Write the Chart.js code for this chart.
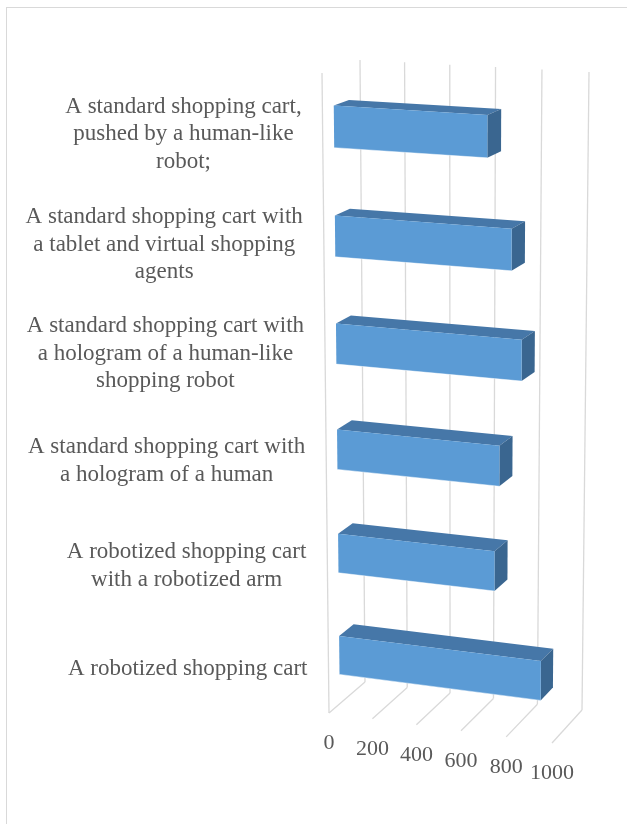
<!DOCTYPE html>
<html>
<head>
<meta charset="utf-8">
<title>Shopping cart concepts</title>
<script src="https://cdn.jsdelivr.net/npm/chart.js@4.4.1/dist/chart.umd.min.js"></script>
<style>
  html, body { margin: 0; padding: 0; background: #ffffff; }
  #frame { position: absolute; left: 6px; top: 7px; width: 621px; height: 817px;
           border-top: 1px solid #d9d9d9; border-left: 1px solid #d9d9d9; box-sizing: border-box; }
  #wrap { position: absolute; left: 0; top: 0; width: 627px; height: 824px; }
</style>
</head>
<body>
<div id="frame"></div>
<div id="wrap"><canvas id="chart" width="627" height="824"></canvas></div>
<script>
// Cart concepts (one line per array entry as the label wraps)
const categories = [
  ['A standard shopping cart,', 'pushed by a human-like', 'robot;'],
  ['A standard shopping cart with', 'a tablet and virtual shopping', 'agents'],
  ['A standard shopping cart with', 'a hologram of a human-like', 'shopping robot'],
  ['A standard shopping cart with', 'a hologram of a human'],
  ['A robotized shopping cart', 'with a robotized arm'],
  ['A robotized shopping cart']
];
const preferenceCounts = [670, 775, 820, 725, 705, 910];
const valueTicks = [0, 200, 400, 600, 800, 1000];

// 3-D box that the plot lives in: back wall and front plane corners,
// perspective foreshortening along each axis, the depth slice occupied
// by the bars, and colours.
const view = {
  back:  { tl: [360, 60], tr: [589, 72], bl: [365, 682], br: [582, 710] },
  front: { tl: [322, 73], tr: [556, 87], bl: [329, 713], br: [552, 743] },
  persU: -0.033,
  persV: 0.056,
  barDepth: [0.3, 0.7],
  vShift: 0.003,
  grid: '#d9d9d9',
  text: '#595959',
  faceFront: '#5b9bd5',
  faceTop: '#4677a8',
  faceSide: '#3a6690'
};

const warp = (s, c) => s * (1 + c) / (1 + c * s);

function onPlane(p, u, v) {
  u = warp(u, view.persU);
  v = warp(v, view.persV);
  const tx = p.tl[0] + (p.tr[0] - p.tl[0]) * u, ty = p.tl[1] + (p.tr[1] - p.tl[1]) * u;
  const bx = p.bl[0] + (p.br[0] - p.bl[0]) * u, by = p.bl[1] + (p.br[1] - p.bl[1]) * u;
  return [tx + (bx - tx) * v, ty + (by - ty) * v];
}
function project(u, v, d) {
  const f = onPlane(view.front, u, v), b = onPlane(view.back, u, v);
  return [f[0] + (b[0] - f[0]) * d, f[1] + (b[1] - f[1]) * d];
}
function poly(ctx, pts, fill) {
  ctx.beginPath();
  ctx.moveTo(pts[0][0], pts[0][1]);
  for (let i = 1; i < pts.length; i++) ctx.lineTo(pts[i][0], pts[i][1]);
  ctx.closePath();
  ctx.fillStyle = fill;
  ctx.fill();
}
function segment(ctx, a, b) {
  ctx.beginPath();
  ctx.moveTo(a[0], a[1]);
  ctx.lineTo(b[0], b[1]);
  ctx.stroke();
}

function mapper(chart) {
  const a = chart.chartArea;
  return {
    U: px => (px - a.left) / (a.right - a.left),
    V: py => (py - a.top) / (a.bottom - a.top) + view.vShift
  };
}

const box3d = {
  id: 'box3d',
  beforeDatasetsDraw(chart) {
    const ctx = chart.ctx;
    const xs = chart.scales.x;
    const { U, V } = mapper(chart);
    ctx.save();
    ctx.strokeStyle = view.grid;
    ctx.lineWidth = 1.3;
    // front edge of the side wall
    segment(ctx, project(0, 0, 0), project(0, 1, 0));
    // value gridlines: up the back wall, then across the floor
    xs.ticks.forEach(t => {
      const u = U(xs.getPixelForValue(t.value));
      segment(ctx, project(u, 0, 1), project(u, 1, 1));
      segment(ctx, project(u, 1, 1), project(u, 1, 0));
    });
    // bars as extruded boxes
    const [d0, d1] = view.barDepth;
    chart.getDatasetMeta(0).data.forEach(bar => {
      const p = bar.getProps(['x', 'y', 'base', 'height'], true);
      const u0 = U(p.base), u1 = U(p.x);
      const v0 = V(p.y - p.height / 2), v1 = V(p.y + p.height / 2);
      poly(ctx, [project(u0, v0, d0), project(u1, v0, d0), project(u1, v0, d1), project(u0, v0, d1)], view.faceTop);
      poly(ctx, [project(u1, v0, d0), project(u1, v0, d1), project(u1, v1, d1), project(u1, v1, d0)], view.faceSide);
      const front = [project(u0, v0, d0), project(u1, v0, d0), project(u1, v1, d0), project(u0, v1, d0)];
      poly(ctx, front, view.faceFront);
      ctx.strokeStyle = 'rgba(255,255,255,0.45)';
      ctx.lineWidth = 1;
      segment(ctx, front[3], front[2]);
      ctx.strokeStyle = view.grid;
      ctx.lineWidth = 1.3;
    });
    ctx.restore();
    return false;
  },
  afterDraw(chart) {
    const ctx = chart.ctx;
    const xs = chart.scales.x, ys = chart.scales.y;
    const { U, V } = mapper(chart);
    ctx.save();
    ctx.fillStyle = view.text;
    ctx.textBaseline = 'middle';
    ctx.textAlign = 'center';
    // value axis labels under the front edge of the floor
    ctx.font = '22px "Liberation Serif", "Times New Roman", serif';
    xs.ticks.forEach(t => {
      const pt = project(U(xs.getPixelForValue(t.value)), 1, 0);
      ctx.fillText(t.label, pt[0], pt[1] + 30);
    });
    // category labels: block right-aligned to the wall, lines centred
    ctx.font = '23px "Liberation Serif", "Times New Roman", serif';
    const lineH = 27.5;
    chart.data.labels.forEach((lines, i) => {
      const vc = V(ys.getPixelForValue(i));
      const right = project(0, vc, 0)[0] - 21;
      const cy = project(0.5, vc, view.barDepth[0])[1];
      const w = Math.max(...lines.map(s => ctx.measureText(s).width));
      const cx = right - w / 2;
      lines.forEach((s, k) => {
        ctx.fillText(s, cx, cy + (k - (lines.length - 1) / 2) * lineH);
      });
    });
    ctx.restore();
  }
};

new Chart(document.getElementById('chart'), {
  type: 'bar',
  data: {
    labels: categories,
    datasets: [{
      data: preferenceCounts,
      backgroundColor: view.faceFront,
      categoryPercentage: 0.8,
      barPercentage: 0.475
    }]
  },
  options: {
    indexAxis: 'y',
    responsive: false,
    animation: false,
    events: [],
    layout: { padding: { left: 322, top: 60, right: 38, bottom: 81 } },
    plugins: { legend: { display: false }, tooltip: { enabled: false } },
    scales: {
      x: {
        display: false,
        min: valueTicks[0],
        max: valueTicks[valueTicks.length - 1],
        afterBuildTicks: s => { s.ticks = valueTicks.map(v => ({ value: v })); },
        ticks: { callback: v => String(v) }
      },
      y: { display: false }
    }
  },
  plugins: [box3d]
});
</script>
</body>
</html>
